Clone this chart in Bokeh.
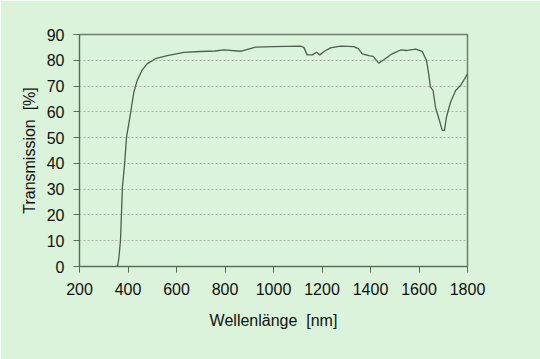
from bokeh.plotting import figure
from bokeh.models import Range1d, FixedTicker
from bokeh.embed import file_html
from bokeh.resources import INLINE

# Wavelength [nm] and transmission [%]
wavelength = [350, 357, 362, 369, 377, 386, 394, 410, 424, 438, 459, 479, 513, 562,
              630, 699, 760, 795, 864, 926, 1000, 1111, 1125, 1139, 1160, 1177, 1191,
              1210, 1235, 1276, 1331, 1350, 1366, 1393, 1411, 1434, 1455, 1489, 1524,
              1551, 1586, 1613, 1631, 1640, 1647, 1658, 1668, 1682, 1696, 1705, 1713,
              1730, 1751, 1771, 1788, 1800]
transmission = [0.0, 0.0, 3.0, 10.1, 30.8, 39.8, 50.2, 59.2, 67.6, 72.2, 76.3, 78.6, 80.6, 81.8,
                83.1, 83.4, 83.6, 84.0, 83.5, 85.1, 85.3, 85.5, 85.0, 82.1, 82.1, 83.1, 82.1,
                83.5, 84.8, 85.5, 85.3, 84.5, 82.5, 81.8, 81.5, 78.9, 80.2, 82.5, 84.0,
                83.8, 84.3, 83.5, 79.9, 74.7, 69.6, 68.3, 61.8, 57.3, 52.8, 52.8, 57.9,
                63.7, 68.3, 70.2, 72.8, 74.7]

x_ticks = [200, 400, 600, 800, 1000, 1200, 1400, 1600, 1800]
y_ticks = [0, 10, 20, 30, 40, 50, 60, 70, 80, 90]

BG = "#daf3da"
FONT = "Liberation Sans"

p = figure(width=540, height=359, output_backend="svg", toolbar_location=None,
           x_range=Range1d(200, 1800), y_range=Range1d(0, 90),
           min_border_left=79, min_border_right=73, min_border_top=34, min_border_bottom=93)
p.background_fill_color = BG
p.border_fill_color = BG
p.outline_line_color = "#6e7f6e"
p.outline_line_width = 1.5

p.line(wavelength, transmission, line_color="#4d5f4d", line_width=1.3)

p.xgrid.grid_line_color = None
p.ygrid.grid_line_color = "#a8b4a8"
p.ygrid.grid_line_dash = "2 2"
p.ygrid.grid_line_width = 1

p.xaxis.ticker = FixedTicker(ticks=x_ticks)
p.yaxis.ticker = FixedTicker(ticks=y_ticks)
for ax in (p.xaxis[0], p.yaxis[0]):
    ax.axis_line_color = "#5a6a5a"
    ax.axis_line_width = 1
    ax.major_tick_line_color = "#5a6a5a"
    ax.major_tick_out = 6
    ax.major_tick_in = 0
    ax.minor_tick_line_color = None
    ax.major_label_text_font = FONT
    ax.major_label_text_font_size = "16px"
    ax.major_label_text_color = "#111111"
    ax.axis_label_text_font = FONT
    ax.axis_label_text_font_size = "16px"
    ax.axis_label_text_font_style = "normal"
    ax.axis_label_text_color = "#111111"

p.xaxis.axis_label = "Wellenlänge\u00a0\u00a0[nm]"
p.yaxis.axis_label = "Transmission\u00a0\u00a0[%]"
p.xaxis.major_label_standoff = 10
p.yaxis.major_label_standoff = 9
p.xaxis.axis_label_standoff = 14
p.yaxis.axis_label_standoff = 6

html = file_html(p, INLINE)
html = html.replace("<body>", '<body style="background:%s;">' % BG, 1)
open("out.html", "w").write(html)
